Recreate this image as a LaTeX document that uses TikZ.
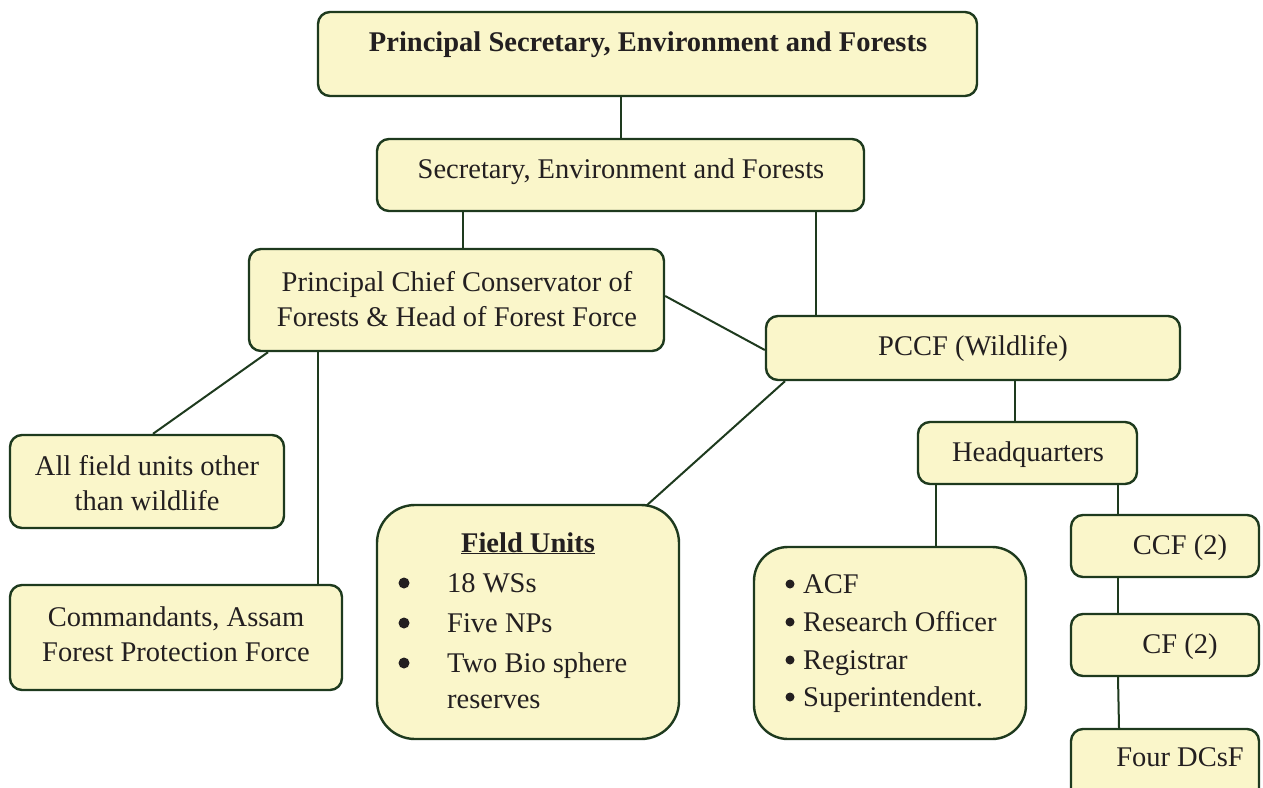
\documentclass[tikz,border=0pt]{standalone}
\usepackage{fontspec}
\setmainfont{Liberation Serif}
\definecolor{boxfill}{HTML}{FAF6CA}
\definecolor{boxline}{HTML}{1E3A1E}
\definecolor{txtc}{HTML}{231F20}
\begin{document}
\begin{tikzpicture}[x=1pt,y=-1pt,
  box/.style={draw=boxline, fill=boxfill, line width=2.4pt, rounded corners=12pt, inner sep=0pt},
  bigbox/.style={box, rounded corners=38pt},
  txt/.style={text=txtc, font=\fontsize{28.5}{35}\selectfont, inner sep=0pt},
  dot/.style={circle, fill=txtc, inner sep=0pt, minimum size=#1},
  conn/.style={draw=boxline, line width=2pt}]
\useasboundingbox (0,0) rectangle (1263,787);
% boxes
\node[box, minimum width=659pt, minimum height=84pt] (top) at (647.5,54) {};
\node[box, minimum width=487pt, minimum height=72pt] (sec) at (620.5,175) {};
\node[box, minimum width=415pt, minimum height=102pt] (pccf) at (456.5,300) {};
\node[box, minimum width=414pt, minimum height=64pt] (pccfw) at (973,348) {};
\node[box, minimum width=274pt, minimum height=93pt] (allf) at (147,481.5) {};
\node[box, minimum width=332pt, minimum height=105pt] (comm) at (176,637.5) {};
\node[bigbox, minimum width=302pt, minimum height=234pt] (fu) at (528,622) {};
\node[box, minimum width=219pt, minimum height=62pt] (hq) at (1027.5,453) {};
\node[bigbox, rounded corners=34pt, minimum width=272pt, minimum height=192pt] (list) at (890,643) {};
\node[box, minimum width=188pt, minimum height=62pt] (ccf) at (1165,546) {};
\node[box, minimum width=188pt, minimum height=62pt] (cf) at (1165,645) {};
\node[box, minimum width=188pt, minimum height=74pt] (dcsf) at (1165,766) {};
% texts
\node[txt, anchor=base, font=\fontsize{28.5}{35}\selectfont\bfseries] (topt) at (648,51) {Principal Secretary, Environment and Forests};
\node[txt, anchor=base] (sect) at (621,178) {Secretary, Environment and Forests};
\node[txt, anchor=base, align=center] (pccft) at (457,326) {Principal Chief Conservator of\\Forests \& Head of Forest Force};
\node[txt, anchor=base] (pccfwt) at (973,355) {PCCF (Wildlife)};
\node[txt, anchor=base, align=center] (allft) at (147,510) {All field units other\\than wildlife};
\node[txt, anchor=base, align=center] (commt) at (176,661) {Commandants, Assam\\Forest Protection Force};
\node[txt, anchor=base, font=\fontsize{28.5}{35}\selectfont\bfseries] (fut) at (528,552) {\underline{Field Units}};
\node[dot=11pt] (fub1) at (404,583) {};
\node[dot=11pt] (fub2) at (404,623) {};
\node[dot=11pt] (fub3) at (404,663) {};
\node[txt, anchor=base west] (fu1) at (447,592) {18 WSs};
\node[txt, anchor=base west] (fu2) at (447,632) {Five NPs};
\node[txt, anchor=base west] (fu3) at (447,672) {Two Bio sphere};
\node[txt, anchor=base west] (fu4) at (447,708) {reserves};
\node[txt, anchor=base] (hqt) at (1028,461) {Headquarters};
\node[dot=9pt] (lb1) at (790,584) {};
\node[dot=9pt] (lb2) at (790,622) {};
\node[dot=9pt] (lb3) at (790,660) {};
\node[dot=9pt] (lb4) at (790,697) {};
\node[txt, anchor=base west] (l1) at (803,593) {ACF};
\node[txt, anchor=base west] (l2) at (803,631) {Research Officer};
\node[txt, anchor=base west] (l3) at (803,669) {Registrar};
\node[txt, anchor=base west] (l4) at (803,706) {Superintendent.};
\node[txt, anchor=base] (ccft) at (1180,554) {CCF (2)};
\node[txt, anchor=base] (cft) at (1180,653) {CF (2)};
\node[txt, anchor=base] (dcsft) at (1180,766) {Four DCsF};
% connectors
\draw[conn] (sec.north |- top.south) -- (sec.north);
\draw[conn] (sec.south -| 463,0) -- (pccf.north -| 463,0);
\draw[conn] (sec.south -| 816,0) -- (pccfw.north -| 816,0);
\draw[conn] ([yshift=4pt]pccf.east) -- ([yshift=-2pt]pccfw.west);
\draw[conn] (pccf.south -| 268,0) -- (allf.north -| 153,0);
\draw[conn] (pccf.south -| 318,0) -- (comm.north -| 318,0);
\draw[conn] (pccfw.south -| 785,0) -- ([xshift=-34pt,yshift=-2pt]fu.north east);
\draw[conn] (pccfw.south -| 1015,0) -- (hq.north -| 1015,0);
\draw[conn] (hq.south -| 936,0) -- (list.north -| 936,0);
\draw[conn] (hq.south -| 1118,0) -- (ccf.north -| 1118,0);
\draw[conn] (ccf.south -| 1118,0) -- (cf.north -| 1118,0);
\draw[conn] (cf.south -| 1118,0) -- (dcsf.north -| 1119,0);
\end{tikzpicture}
\end{document}
